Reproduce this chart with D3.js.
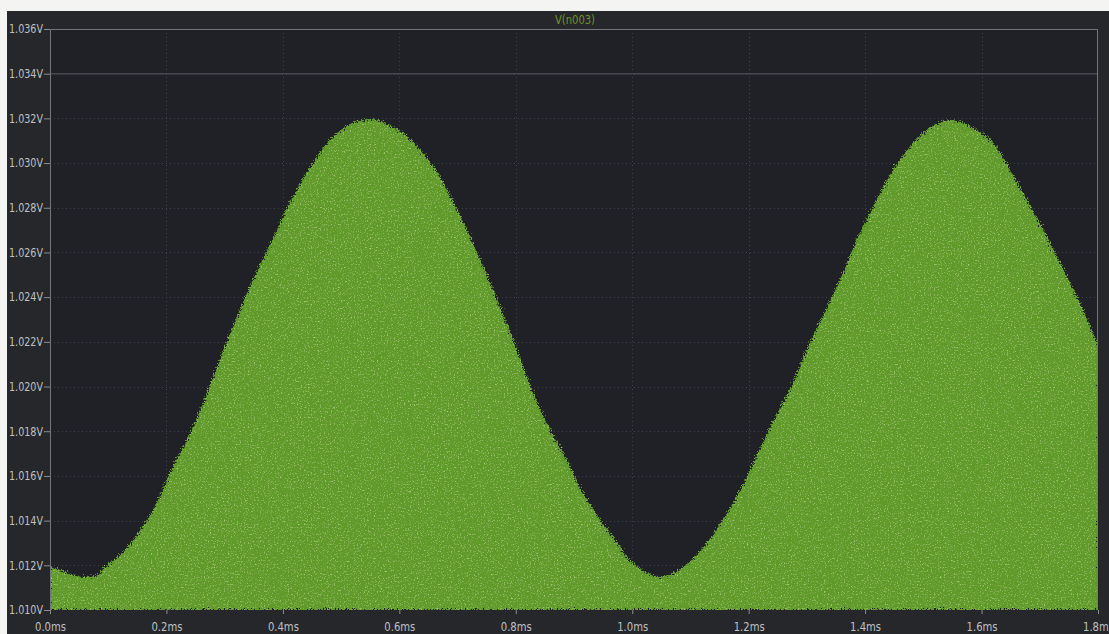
<!DOCTYPE html>
<html>
<head>
<meta charset="utf-8">
<script src="https://cdn.jsdelivr.net/npm/d3@7/dist/d3.min.js"></script>
<style>
  html, body { margin: 0; padding: 0; background: #f4f4f2; }
  svg { display: block; }
  .tick text, .title { font-family: "DejaVu Sans", sans-serif; font-stretch: condensed; }
</style>
</head>
<body>
<svg id="chart" width="1109" height="634"></svg>
<script>
// Trace name and axis ticks
const traceName = "V(n003)";
const voltTicks = [1.010, 1.012, 1.014, 1.016, 1.018, 1.020, 1.022, 1.024, 1.026, 1.028, 1.030, 1.032, 1.034, 1.036];
const timeTicks = [0.0, 0.2, 0.4, 0.6, 0.8, 1.0, 1.2, 1.4, 1.6, 1.8];

// Upper envelope of V(n003): time in ms, voltage in V
const timeMs = [
  0.000, 0.022, 0.046, 0.064, 0.081, 0.098, 0.120, 0.143, 0.177, 0.211,
  0.246, 0.280, 0.314, 0.349, 0.383, 0.417, 0.452, 0.486, 0.520, 0.555,
  0.589, 0.613, 0.658, 0.687, 0.716, 0.744, 0.773, 0.802, 0.830, 0.859,
  0.888, 0.915, 0.945, 0.974, 1.001, 1.048, 1.087, 1.128, 1.163, 1.197,
  1.232, 1.276, 1.305, 1.335, 1.362, 1.391, 1.420, 1.448, 1.477, 1.506,
  1.546, 1.592, 1.620, 1.649, 1.678, 1.706, 1.735, 1.764, 1.791, 1.800
];
const voltV = [
  1.01192, 1.01175, 1.01152, 1.01148, 1.01157, 1.01201, 1.01246, 1.01313, 1.01448, 1.01640,
  1.01819, 1.02043, 1.02266, 1.02480, 1.02662, 1.02848, 1.03000, 1.03117, 1.03179, 1.03197,
  1.03161, 1.03120, 1.02985, 1.02855, 1.02700, 1.02535, 1.02356, 1.02164, 1.01971, 1.01806,
  1.01671, 1.01524, 1.01403, 1.01300, 1.01210, 1.01148, 1.01192, 1.01300, 1.01434, 1.01595,
  1.01792, 1.02016, 1.02195, 1.02356, 1.02508, 1.02687, 1.02835, 1.02969, 1.03072, 1.03148,
  1.03193, 1.03148, 1.03090, 1.02969, 1.02835, 1.02701, 1.02553, 1.02401, 1.02240, 1.02177
];

const svg = d3.select("#chart");
const W = 1109, H = 634;
const plot = { left: 50, top: 29, right: 1098, bottom: 610 };

const x = d3.scaleLinear().domain([0, 1.8]).range([plot.left, plot.right]);
const y = d3.scaleLinear().domain([1.010, 1.036]).range([plot.bottom, plot.top]);

// Grain filter: ragged edge plus light speckles inside the trace
const defs = svg.append("defs");
const f = defs.append("filter").attr("id", "grain")
  .attr("x", "-1%").attr("y", "-3%").attr("width", "102%").attr("height", "106%");
f.append("feTurbulence").attr("type", "fractalNoise").attr("baseFrequency", "0.7")
  .attr("numOctaves", 2).attr("seed", 7).attr("result", "noise");
f.append("feDisplacementMap").attr("in", "SourceGraphic").attr("in2", "noise")
  .attr("scale", 9).attr("xChannelSelector", "R").attr("yChannelSelector", "G").attr("result", "rough");
f.append("feColorMatrix").attr("in", "noise").attr("type", "matrix")
  .attr("values", "0 0 0 0 0.46  0 0 0 0 0.68  0 0 0 0 0.22  0 0 2.6 0 -1.45")
  .attr("result", "speck");
f.append("feComposite").attr("in", "speck").attr("in2", "rough").attr("operator", "in").attr("result", "speckIn");
const merge = f.append("feMerge");
merge.append("feMergeNode").attr("in", "rough");
merge.append("feMergeNode").attr("in", "speckIn");

// Page frame
svg.append("rect").attr("x", 0).attr("y", 0).attr("width", W).attr("height", H).attr("fill", "#f4f4f2");
svg.append("rect").attr("x", 7).attr("y", 11).attr("width", W - 7).attr("height", H - 11).attr("fill", "#25272b");
svg.append("rect").attr("x", plot.left).attr("y", plot.top)
  .attr("width", plot.right - plot.left).attr("height", plot.bottom - plot.top).attr("fill", "#1f2126");

// Dotted grid
const grid = svg.append("g").attr("stroke", "#3f4148").attr("stroke-width", 1).attr("stroke-dasharray", "1,3");
grid.selectAll("line.h").data(voltTicks.slice(1, -1)).join("line")
  .attr("x1", plot.left).attr("x2", plot.right)
  .attr("y1", d => Math.round(y(d)) + 0.5).attr("y2", d => Math.round(y(d)) + 0.5);
grid.selectAll("line.v").data(timeTicks.slice(1, -1)).join("line")
  .attr("y1", plot.top).attr("y2", plot.bottom)
  .attr("x1", d => Math.round(x(d)) + 0.5).attr("x2", d => Math.round(x(d)) + 0.5);

// Brighter reference line at 1.034V
svg.append("line").attr("x1", plot.left).attr("x2", plot.right)
  .attr("y1", y(1.034)).attr("y2", y(1.034)).attr("stroke", "#44464c").attr("stroke-width", 1.6);

// Filled trace
svg.append("clipPath").attr("id", "plotClip").append("rect")
  .attr("x", plot.left + 1).attr("y", plot.top).attr("width", plot.right - plot.left - 1).attr("height", plot.bottom - plot.top);

const data = timeMs.map((t, i) => ({ t, v: voltV[i] }));
const area = d3.area().x(d => x(d.t)).y0(y(1.010)).y1(d => y(d.v)).curve(d3.curveCatmullRom);
svg.append("g").attr("clip-path", "url(#plotClip)")
  .append("path").datum(data).attr("d", area)
  .attr("fill", "#619a2b").attr("filter", "url(#grain)");

// Plot border (left, top, right)
svg.append("path")
  .attr("d", `M${plot.left + 0.5},${plot.bottom}V${plot.top + 0.5}H${plot.right - 0.5}V${plot.bottom}`)
  .attr("fill", "none").attr("stroke", "#74767b").attr("stroke-width", 1);

// Axes
const yAxis = d3.axisLeft(y).tickValues(voltTicks).tickSize(6).tickPadding(1)
  .tickFormat(d => d3.format(".3f")(d) + "V");
const gy = svg.append("g").attr("transform", `translate(${plot.left},0)`).call(yAxis);
gy.select(".domain").remove();
gy.selectAll(".tick line").attr("stroke", "#8a8c90");
gy.selectAll(".tick text").attr("fill", "#bfc0c3").attr("font-size", 12)
  .attr("textLength", 34).attr("lengthAdjust", "spacingAndGlyphs");

const xAxis = d3.axisBottom(x).tickValues(timeTicks).tickSize(4).tickPadding(8)
  .tickFormat(d => d3.format(".1f")(d) + "ms");
const gx = svg.append("g").attr("transform", `translate(0,${plot.bottom})`).call(xAxis);
gx.select(".domain").remove();
gx.selectAll(".tick line").attr("stroke", "#8a8c90");
gx.selectAll(".tick text").attr("fill", "#bfc0c3").attr("font-size", 12)
  .attr("textLength", 31).attr("lengthAdjust", "spacingAndGlyphs");

// Trace title
svg.append("text").attr("class", "title").attr("x", 575).attr("y", 24).attr("text-anchor", "middle")
  .attr("font-size", 12).attr("textLength", 40).attr("lengthAdjust", "spacingAndGlyphs")
  .attr("fill", "#74922c").text(traceName);
</script>
</body>
</html>
